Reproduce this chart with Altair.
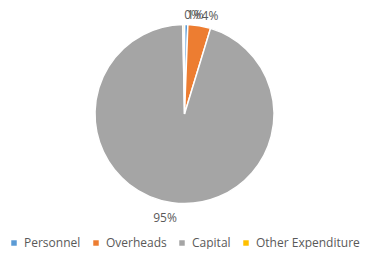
import altair as alt
import pandas as pd

categories = ["Personnel", "Overheads", "Capital", "Other Expenditure"]
shares = [0.6, 4.1, 95.0, 0.3]
colors = ["#5B9BD5", "#ED7D31", "#A5A5A5", "#FFC000"]

df = pd.DataFrame({"cat": categories, "share": shares, "idx": list(range(len(categories)))})

theta_scale = alt.Scale(domain=[0, 100])

stacked = alt.Chart(df).transform_calculate(
    lab="format(datum.share/100, '.0%')"
).transform_stack(
    stack="share", groupby=[], as_=["s0", "s1"], sort=[alt.SortField("idx")]
).transform_calculate(
    mid="(datum.s0 + datum.s1) / 2"
)

arcs = stacked.mark_arc(outerRadius=89.5, stroke="white", strokeWidth=1.5).encode(
    theta=alt.Theta("s0:Q", scale=theta_scale),
    theta2="s1:Q",
    color=alt.Color(
        "cat:N",
        scale=alt.Scale(domain=categories, range=colors),
        sort=categories,
        legend=alt.Legend(
            title=None,
            orient="none",
            legendX=0,
            legendY=229,
            direction="horizontal",
            symbolType="square",
            symbolSize=30,
            symbolStrokeWidth=0,
            labelFont="Open Sans",
            labelFontSize=12,
            labelColor="#595959",
            labelOffset=4,
            columnPadding=9,
            padding=0,
        ),
    ),
)

small_labels = stacked.transform_filter("datum.share < 50").mark_text(
    radius=99, dx=9, font="Open Sans", fontSize=12, color="#595959"
).encode(
    theta=alt.Theta("mid:Q", scale=theta_scale),
    text="lab:N",
)

big_labels = stacked.transform_filter("datum.share >= 50").mark_text(
    radius=105, dx=-5, font="Open Sans", fontSize=12, color="#595959"
).encode(
    theta=alt.Theta("mid:Q", scale=theta_scale),
    text="lab:N",
)

chart = (arcs + small_labels + big_labels).properties(
    width=353, height=212, padding=0
).configure_view(stroke=None)

chart.save("out.html", embed_options={"renderer": "svg", "actions": False})
